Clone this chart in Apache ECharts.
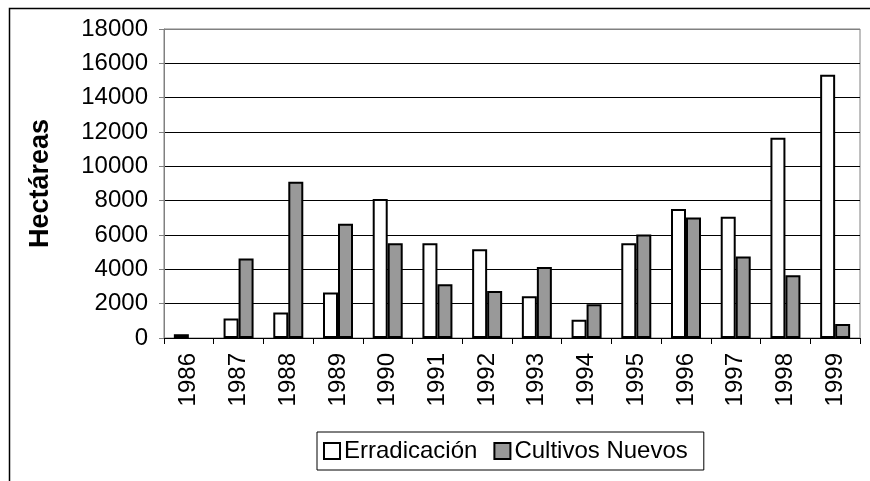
<!DOCTYPE html>
<html>
<head>
<meta charset="utf-8">
<script src="https://cdn.jsdelivr.net/npm/echarts@6/dist/echarts.min.js"></script>
<style>
  html, body { margin: 0; padding: 0; background: #fff; }
  #chart { width: 870px; height: 481px; }
</style>
</head>
<body>
<div id="chart"></div>
<script>
// años del eje x
var years = ["1986", "1987", "1988", "1989", "1990", "1991", "1992",
             "1993", "1994", "1995", "1996", "1997", "1998", "1999"];
// hectáreas erradicadas
var erradicacion = [220, 1130, 1480, 2650, 8090, 5520, 5170,
                    2430, 1070, 5520, 7520, 7060, 11660, 15330];
// hectáreas de cultivos nuevos
var cultivosNuevos = [0, 4630, 9100, 6650, 5520, 3130, 2740,
                      4140, 1960, 6030, 7020, 4750, 3650, 820];
var yMin = 0, yMax = 18000, yStep = 2000;

var font = "Liberation Sans, Arial, sans-serif";
var mychart = echarts.init(document.getElementById("chart"));

// color de las líneas de la cuadrícula: la última (tope) gris
var gridColors = [];
for (var v = yMin; v <= yMax; v += yStep) {
  gridColors.push(v === yMax ? "#808080" : "#000000");
}
// sin barra cuando el valor es 0
function noZero(arr) {
  return arr.map(function (d) { return d === 0 ? "-" : d; });
}

var options = {
  backgroundColor: "#ffffff",
  animation: false,
  textStyle: { fontFamily: font },
  grid: {
    left: 164, right: 10, top: 29, bottom: 143,
    show: true, borderColor: "#808080", borderWidth: 1,
    backgroundColor: "transparent"
  },
  legend: {
    left: 317, top: 432,
    itemWidth: 16, itemHeight: 16, itemGap: 16,
    padding: [7, 16, 7, 6],
    borderColor: "#000", borderWidth: 1,
    backgroundColor: "#fff",
    textStyle: { fontFamily: font, fontSize: 24, color: "#000", padding: [0, 0, 0, -1] },
    data: [
      { name: "Erradicación", icon: "rect" },
      { name: "Cultivos Nuevos", icon: "rect" }
    ]
  },
  xAxis: {
    type: "category",
    data: years,
    axisLine: { lineStyle: { color: "#000", width: 1 } },
    axisTick: { show: true, length: 6, lineStyle: { color: "#000" } },
    axisLabel: {
      interval: 0, rotate: 90, margin: 15,
      fontFamily: font, fontSize: 24, color: "#000"
    }
  },
  yAxis: {
    type: "value",
    min: yMin, max: yMax, interval: yStep,
    name: "Hectáreas",
    nameLocation: "middle",
    nameRotate: 90,
    nameGap: 110,
    nameTextStyle: { fontFamily: font, fontSize: 27, fontWeight: "bold", color: "#000" },
    axisLine: { show: true, lineStyle: { color: "#808080", width: 1 } },
    axisTick: { show: true, length: 5, lineStyle: { color: "#808080" } },
    axisLabel: {
      margin: 16, fontFamily: font, fontSize: 24, color: "#000",
      formatter: function (val) { return String(val); }
    },
    splitLine: { show: true, lineStyle: { color: gridColors, width: 1 } }
  },
  series: [
    {
      name: "Erradicación",
      type: "bar",
      data: noZero(erradicacion),
      barWidth: 15,
      barGap: "0%",
      itemStyle: { color: "#ffffff", borderColor: "#000", borderWidth: 2 }
    },
    {
      name: "Cultivos Nuevos",
      type: "bar",
      data: noZero(cultivosNuevos),
      barWidth: 15,
      itemStyle: { color: "#999999", borderColor: "#000", borderWidth: 2 }
    }
  ],
  graphic: [
    {
      type: "polyline",
      shape: { points: [[9.5, 481], [9.5, 8.5], [870, 8.5]] },
      style: { stroke: "#000", lineWidth: 1.5, fill: null },
      silent: true
    }
  ]
};
mychart.setOption(options);
</script>
</body>
</html>
